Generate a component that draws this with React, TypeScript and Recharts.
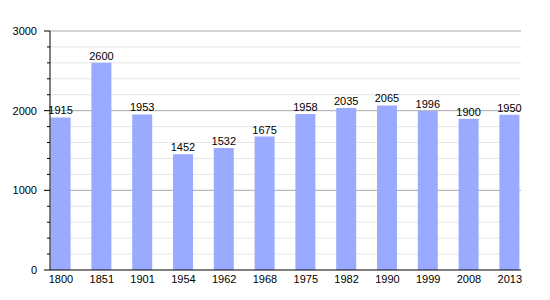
import { Bar, BarChart, CartesianGrid, LabelList, XAxis, YAxis } from "recharts";

const years = ["1800", "1851", "1901", "1954", "1962", "1968", "1975", "1982", "1990", "1999", "2008", "2013"];
const population = [1915, 2600, 1953, 1452, 1532, 1675, 1958, 2035, 2065, 1996, 1900, 1950];
const yTicks = [0, 200, 400, 600, 800, 1000, 1200, 1400, 1600, 1800, 2000, 2200, 2400, 2600, 2800, 3000];
const majorTicks = [1000, 2000, 3000];
const minorTicks = yTicks.filter((t) => t > 0 && !majorTicks.includes(t));
const yMax = 3000;

const data = years.map((y, i) => ({ year: y, pop: population[i] }));
const font = "'Liberation Sans', Arial, sans-serif";

function YTick(props: any) {
  const { x, y, payload } = props;
  const v = payload.value as number;
  const major = v % 1000 === 0;
  return (
    <g>
      <line x1={x - (major ? 6 : 3)} x2={x} y1={y} y2={y} stroke="#000" strokeWidth={1} />
      {major && (
        <text x={x - 13} y={y} dy="0.35em" textAnchor="end" fontSize={11} fontFamily={font} fill="#000">
          {v}
        </text>
      )}
    </g>
  );
}

// map values to pixel rows using the y axis scale (whatever shape recharts hands us)
const gridAt = (vals: number[]) => (p: any) => {
  const scale = p.yAxis?.scale;
  let f: ((v: number) => number) | null = null;
  if (typeof scale === "function") f = scale;
  else if (scale && typeof scale.map === "function") f = (v) => scale.map(v);
  else if (scale && typeof scale.apply === "function") f = (v) => scale.apply(v);
  if (f) {
    const out = vals.map((v) => f!(v));
    if (out.every((n) => typeof n === "number" && !isNaN(n))) return out;
  }
  const { top, height } = p.offset;
  return vals.map((v) => top + height * (1 - v / yMax));
};

export default function App() {
  return (
    <div style={{ position: "absolute", left: 0, top: 0, width: 550, height: 300, background: "#fff" }}>
      <BarChart width={550} height={300} data={data} margin={{ top: 31, right: 29, bottom: 10, left: 0 }} barSize={20}>
        <CartesianGrid vertical={false} stroke="#e6e6e6" horizontalCoordinatesGenerator={gridAt(minorTicks)} />
        <CartesianGrid vertical={false} stroke="#aaaaaa" horizontalCoordinatesGenerator={gridAt(majorTicks)} />
        <XAxis
          dataKey="year"
          padding={{ left: -9.4, right: -9.2 }}
          tickLine={false}
          tickSize={0}
          tickMargin={5}
          height={20}
          axisLine={{ stroke: "#000" }}
          tick={{ fontSize: 11, fontFamily: font, fill: "#000" }}
          interval={0}
        />
        <YAxis
          width={50}
          domain={[0, yMax]}
          ticks={yTicks}
          interval={0}
          tickLine={false}
          tickSize={0}
          tickMargin={0}
          axisLine={{ stroke: "#000" }}
          tick={<YTick />}
        />
        <Bar dataKey="pop" fill="#99aaff" isAnimationActive={false}>
          <LabelList dataKey="pop" position="top" offset={3} fontSize={11} fontFamily={font} fill="#000" />
        </Bar>
      </BarChart>
    </div>
  );
}
